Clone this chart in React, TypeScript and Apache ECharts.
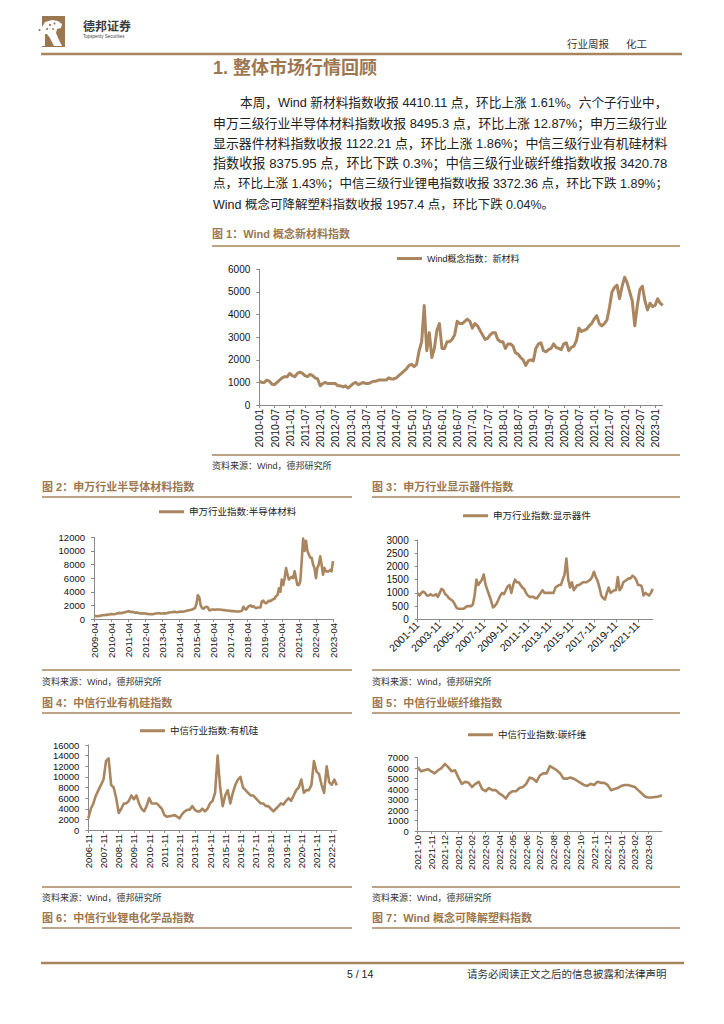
import React, { useEffect, useRef } from 'react';
import * as echarts from 'echarts';

const FONT = '"Liberation Sans", "Noto Sans CJK SC", sans-serif';
const BROWN = '#9c7750';
const RULE = '#a8855f';
const LINE = '#a9865f';

function monthSeq(y: number, m: number, n: number, step: number): string[] {
  const out: string[] = [];
  for (let i = 0; i < n; i++) {
    const t = y * 12 + (m - 1) + i * step;
    out.push(`${Math.floor(t / 12)}-${String((t % 12) + 1).padStart(2, '0')}`);
  }
  return out;
}

// ---- Figure 1: Wind 概念新材料指数 (monthly, 2010-01 .. 2023-04)
const cats1 = monthSeq(2010, 1, 160, 1);
const v1 = [
  1050, 1000, 1000, 1100, 1050, 920, 900, 1000, 1100, 1200, 1250, 1250,
  1400, 1300, 1250, 1400, 1450, 1400, 1300, 1250, 1350, 1300, 1200, 1150,
  850, 950, 1000, 950, 950, 950, 950, 850, 850, 800, 850, 750,
  850, 950, 1000, 900, 950, 1000, 950, 950, 1000, 1050, 1050, 1100,
  1100, 1100, 1100, 1200, 1150, 1150, 1200, 1300, 1400, 1500, 1600, 1750,
  1800, 1700, 1800, 2400, 2800, 4400, 2400, 3200, 2100, 2500, 3300, 3600,
  2500, 2500, 2800, 2800, 2900, 3100, 3700, 3600, 3600, 3700, 3800, 3700,
  3400, 3600, 3500, 3300, 3100, 2900, 2950, 3100, 3200, 3200, 2900, 2800,
  2800, 2500, 2700, 2700, 2600, 2300, 2250, 2100, 2000, 1750, 1950, 2000,
  1950, 2500, 2700, 2750, 2400, 2350, 2450, 2500, 2700, 2550, 2500, 2450,
  2700, 2750, 2400, 2550, 2600, 2850, 3400, 3250, 3300, 3350, 3500, 3600,
  3800, 3950, 3600, 3500, 3600, 3750, 4300, 5000, 5200, 5300, 4700, 5250,
  5650, 5400, 5000, 4600, 3500, 4400, 5100, 5250, 4600, 4200, 4500, 4350,
  4400, 4700, 4500, 4400,
];

// ---- Figure 2: 申万行业半导体材料 (monthly, 2009-04 .. 2023-04)
const cats2 = monthSeq(2009, 4, 169, 1);
const v2 = [
  450, 450, 400, 450, 450, 500, 550, 550, 600,
  600, 650, 650, 750, 700, 700, 750, 800, 850, 900, 850, 900,
  950, 1000, 1050, 1150, 1100, 1000, 1050, 1000, 900, 950, 900, 850,
  800, 800, 850, 800, 750, 750, 700, 750, 700, 750, 800, 800,
  850, 850, 800, 800, 850, 800, 850, 900, 950, 1000, 1000, 1050,
  1050, 1000, 1000, 1050, 1100, 1050, 1100, 1150, 1200, 1250, 1300, 1350,
  1400, 1500, 1600, 2200, 3500, 3200, 2000, 1600, 1500, 1700, 1800, 1700,
  1300, 1300, 1400, 1400, 1350, 1400, 1400, 1400, 1350, 1350, 1300, 1300,
  1250, 1250, 1200, 1200, 1150, 1150, 1150, 1100, 1100, 1100, 1150, 1200,
  1800, 1500, 1400, 1700, 1900, 2000, 1800, 1900, 1700, 1600, 1700, 1700,
  1700, 2600, 2700, 2400, 2300, 2500, 2700, 2600, 2800, 2900, 3000, 3400,
  3500, 4500, 4000, 5800, 5000, 6000, 7500, 6500, 5800, 6000, 6200, 6000,
  7000, 6000, 5000, 5000, 5500, 8500, 11800, 10000, 11500, 10000, 9500, 9000,
  9000, 8000, 7500, 6000, 7500, 8000, 9200, 8000, 6500, 7500, 7000, 7000,
  7000, 7200, 7000, 8500,
];

// ---- Figure 3: 申万行业显示器件 (bi-monthly, 2001-11 .. 2023-03)
const cats3 = monthSeq(2001, 11, 129, 2);
const v3 = [
  1000,
  900, 1000, 1050, 1000, 900, 900,
  950, 900, 900, 950, 850, 1000,
  1150, 1100, 950, 900, 800, 750,
  700, 600, 450, 400, 400, 400,
  400, 450, 500, 500, 500, 550,
  900, 1500, 1300, 1400, 1500, 1700,
  1300, 1100, 900, 700, 450, 500,
  600, 750, 900, 1000, 950, 1100,
  1250, 1300, 1000, 1300, 1500, 1400,
  1400, 1300, 1200, 1150, 1000, 900,
  850, 850, 850, 800, 800, 900,
  1000, 1100, 1000, 1000, 1000, 1000,
  1000, 1000, 1200, 1250, 1300, 1300,
  1500, 1700, 2300, 1500, 1200, 1400,
  1100, 1200, 1300, 1300, 1350, 1400,
  1400, 1400, 1450, 1500, 1600, 1800,
  1600, 1450, 1200, 900, 800, 750,
  1000, 1200, 1000, 1050, 1100, 1100,
  1600, 1100, 1200, 1400, 1450, 1500,
  1550, 1550, 1650, 1600, 1500, 1300,
  1300, 1250, 900, 1000, 950, 900,
  1000, 1150,
];

// ---- Figure 4: 中信行业有机硅 (bi-monthly, 2006-11 .. 2023-03)
const cats4 = monthSeq(2006, 11, 99, 2);
const v4 = [
  2200,
  4000, 5000, 6500, 7500, 8500, 9500,
  13000, 13500, 8500, 8000, 6000, 3200,
  4000, 5000, 5000, 5500, 6500, 5800,
  6500, 5000, 4000, 3500, 4500, 6000,
  5000, 5000, 5000, 4500, 4000, 2800,
  2500, 2600, 2700, 2800, 2500, 2200,
  3000, 3500, 3800, 3800, 4500, 3800,
  3500, 3500, 4000, 3500, 4000, 5000,
  5500, 7000, 14000, 8000, 4500, 6500,
  7500, 5000, 7000, 8500, 9500, 10000,
  8000, 7500, 7000, 6500, 6500, 6000,
  5500, 5000, 5000, 4500, 4500, 4000,
  3500, 4000, 4500, 5000, 4800, 5500,
  6000, 5500, 6500, 7500, 8000, 9500,
  7000, 7500, 7500, 8500, 13000, 11000,
  10500, 8500, 7000, 12000, 9000, 8500,
  9500, 8400,
];

// ---- Figure 5: 中信行业碳纤维 (weekly, 2021-10 .. 2023-04)
const months5 = monthSeq(2021, 10, 19, 1);
const cats5 = Array.from({ length: 73 }, (_, i) => `${months5[Math.floor(i / 4)]}-w${i % 4}`);
const v5 = [
  6100, 5700, 5800, 5900,
  5700, 5500, 5800, 6000,
  6400, 6100, 5700, 5800,
  5100, 4500, 4700, 4600,
  4200, 4500, 4700, 4000,
  3800, 4100, 3900, 3900,
  3600, 3400, 3100, 3600,
  3800, 3800, 4100, 4200,
  4500, 5100, 5000, 4700,
  5300, 5500, 5500, 6200,
  6000, 5800, 5500, 5000,
  5000, 5100, 5000, 4800,
  4600, 4400, 4300, 4500,
  4400, 4700, 4600, 4600,
  4400, 3900, 4000, 4100,
  4300, 4400, 4400, 4300,
  4200, 3900, 3600, 3300,
  3200, 3200, 3250, 3300,
  3420,
];

const names = [
  'Wind概念指数：新材料',
  '申万行业指数:半导体材料',
  '申万行业指数:显示器件',
  '中信行业指数:有机硅',
  '中信行业指数:碳纤维',
];

const paragraph = [
  '本周，Wind 新材料指数收报 4410.11 点，环比上涨 1.61%。六个子行业中，',
  '申万三级行业半导体材料指数收报 8495.3 点，环比上涨 12.87%；申万三级行业',
  '显示器件材料指数收报 1122.21 点，环比上涨 1.86%；中信三级行业有机硅材料',
  '指数收报 8375.95 点，环比下跌 0.3%；中信三级行业碳纤维指数收报 3420.78',
  '点，环比上涨 1.43%；中信三级行业锂电指数收报 3372.36 点，环比下跌 1.89%；',
  'Wind 概念可降解塑料指数收报 1957.4 点，环比下跌 0.04%。',
];

const figTitles = [
  '图 1：Wind 概念新材料指数',
  '图 2：申万行业半导体材料指数',
  '图 3：申万行业显示器件指数',
  '图 4：中信行业有机硅指数',
  '图 5：中信行业碳纤维指数',
  '图 6：中信行业锂电化学品指数',
  '图 7：Wind 概念可降解塑料指数',
];
const SOURCE = '资料来源：Wind，德邦研究所';

function txt(x: number, y: number, text: string, size: number, fill: string, weight: any = 'normal', align = 'left') {
  return {
    type: 'text', x, y, silent: true,
    style: { text, fontSize: size, fontFamily: FONT, fontWeight: weight, fill, align, verticalAlign: 'middle' },
  };
}
function hline(x1: number, x2: number, y: number, w: number, color: string) {
  return { type: 'rect', silent: true, shape: { x: x1, y: y - w / 2, width: x2 - x1, height: w }, style: { fill: color } };
}

export default function App() {
  const ref = useRef<HTMLDivElement>(null);
  useEffect(() => {
    if (!ref.current) return;
    const chart = echarts.init(ref.current, null, { renderer: 'svg', width: 724, height: 1024 });

    const canvas = document.createElement('canvas');
    const ctx = canvas.getContext('2d')!;
    const paraEls: any[] = [];
    paragraph.forEach((line, i) => {
      const x0 = i === 0 ? 240 : 213;
      let size = 12.5;
      if (i < paragraph.length - 1) {
        ctx.font = `12.5px ${FONT}`;
        const w = ctx.measureText(line).width;
        if (w > 0) size = Math.max(11.5, Math.min(13.5, 12.5 * (668 - x0) / w));
      }
      paraEls.push(txt(x0, 103 + 20.3 * i, line, size, '#222'));
    });

    const grids = [
      { left: 259.3, top: 269.3, width: 403.4, height: 135.7 },
      { left: 94, top: 537.3, width: 239, height: 81.7 },
      { left: 417.7, top: 540, width: 235, height: 79.3 },
      { left: 88.3, top: 745, width: 248.5, height: 85 },
      { left: 417.7, top: 757.7, width: 244.2, height: 73.3 },
    ];
    const catsAll = [cats1, cats2, cats3, cats4, cats5];
    const valsAll = [v1, v2, v3, v4, v5];
    const steps = [6, 12, 12, 6, 4];
    const lastLabel = [156, 168, 120, 96, 68];
    const rotates = [90, 90, 45, 90, 90];
    const xFont = [10.5, 9.5, 10.5, 9.5, 9.5];
    const yFont = [10, 9.5, 10, 9.5, 9.5];
    const ymax = [6000, 12000, 3000, 16000, 7000];
    const ystep = [1000, 2000, 500, 2000, 1000];
    const legendPos = [[397, 260], [159, 513], [463, 517], [140, 732], [468, 736]];
    const axisColor = '#8a8a8a';

    const xAxis = grids.map((_, i) => {
      const show = (idx: number) => idx % steps[i] === 0 && idx <= lastLabel[i];
      return {
        type: 'category', gridIndex: i, data: catsAll[i], boundaryGap: false,
        axisLine: { show: true, lineStyle: { color: axisColor, width: 1 } },
        axisTick: { show: true, interval: show, length: 3, lineStyle: { color: axisColor } },
        axisLabel: {
          interval: show, rotate: rotates[i], fontSize: xFont[i], color: '#111',
          fontFamily: FONT, margin: 4,
          formatter: (v: string) => v.slice(0, 7),
        },
        splitLine: { show: false },
      };
    });
    const yAxis = grids.map((_, i) => ({
      type: 'value', gridIndex: i, min: 0, max: ymax[i], interval: ystep[i],
      axisLine: { show: true, lineStyle: { color: axisColor, width: 1 } },
      axisTick: { show: true, length: 3, lineStyle: { color: axisColor } },
      axisLabel: { fontSize: yFont[i], color: '#111', fontFamily: FONT, margin: 9, formatter: (v: number) => String(v) },
      splitLine: { show: false },
    }));
    const series = grids.map((_, i) => ({
      type: 'line', name: names[i], xAxisIndex: i, yAxisIndex: i, data: valsAll[i],
      showSymbol: false, symbol: 'none', smooth: false,
      lineStyle: { color: LINE, width: i === 0 ? 3 : 2.6, join: 'round' }, itemStyle: { color: LINE },
    }));
    const legend = grids.map((_, i) => ({
      data: [names[i]], left: legendPos[i][0], top: legendPos[i][1] - 6, padding: 0,
      icon: 'rect', itemWidth: 25, itemHeight: 3, itemGap: 0, selectedMode: false,
      textStyle: { fontSize: i === 0 ? 9 : 9.5, color: '#222', fontFamily: FONT },
    }));

    const graphic: any[] = [
      { type: 'rect', silent: true, shape: { x: 42, y: 16, width: 23, height: 31 }, style: { fill: '#9a7651' } },
      {
        type: 'polygon', silent: true,
        shape: { points: [[42, 27], [45, 22], [52, 20], [58, 21], [62, 24], [61, 28], [57, 29], [56, 33], [59, 40], [62, 46], [54, 46], [50, 38], [47, 34], [45, 34], [45, 46], [42, 46]] },
        style: { fill: '#ffffff' },
      },
      { type: 'circle', silent: true, shape: { cx: 50, cy: 25, r: 1.1 }, style: { fill: '#9a7651' } },
      { type: 'circle', silent: true, shape: { cx: 54.5, cy: 23.5, r: 1 }, style: { fill: '#9a7651' } },
      { type: 'circle', silent: true, shape: { cx: 47, cy: 29, r: 1 }, style: { fill: '#9a7651' } },
      { type: 'circle', silent: true, shape: { cx: 53, cy: 29, r: 0.9 }, style: { fill: '#9a7651' } },
      { type: 'circle', silent: true, shape: { cx: 39.5, cy: 30, r: 1 }, style: { fill: '#9a7651' } },
      txt(83, 27, '德邦证券', 12, '#3a3a3a', 'bold'),
      txt(83, 36.5, 'Topsperity Securities', 4.5, '#444'),
      txt(567, 44, '行业周报', 10.5, '#333'),
      txt(626, 44, '化工', 10.5, '#333'),
      hline(41, 682, 54, 2.6, RULE),
      txt(213, 68, '1. 整体市场行情回顾', 18, BROWN, 'bold'),
      ...paraEls,
      txt(212, 234, figTitles[0], 11, BROWN, 'bold'),
      hline(212, 680, 246, 1.6, RULE),
      hline(212, 680, 455, 1.6, RULE),
      txt(212, 466, SOURCE, 9, '#333'),
      txt(42, 487, figTitles[1], 11, BROWN, 'bold'),
      txt(372, 487, figTitles[2], 11, BROWN, 'bold'),
      hline(42, 352, 497, 1.6, RULE),
      hline(372, 680, 497, 1.6, RULE),
      hline(42, 352, 670, 1.6, RULE),
      hline(372, 680, 670, 1.6, RULE),
      txt(42, 682, SOURCE, 9, '#333'),
      txt(372, 682, SOURCE, 9, '#333'),
      txt(42, 703, figTitles[3], 11, BROWN, 'bold'),
      txt(372, 703, figTitles[4], 11, BROWN, 'bold'),
      hline(42, 352, 713, 1.6, RULE),
      hline(372, 680, 713, 1.6, RULE),
      hline(42, 352, 887, 1.6, RULE),
      hline(372, 680, 887, 1.6, RULE),
      txt(42, 898, SOURCE, 9, '#333'),
      txt(372, 898, SOURCE, 9, '#333'),
      txt(42, 918, figTitles[5], 11, BROWN, 'bold'),
      txt(372, 918, figTitles[6], 11, BROWN, 'bold'),
      hline(42, 352, 928, 1.6, RULE),
      hline(372, 680, 928, 1.6, RULE),
      hline(41, 684, 963, 2.6, RULE),
      txt(347, 974, '5 / 14', 10.5, '#222'),
      txt(467, 974, '请务必阅读正文之后的信息披露和法律声明', 10.5, '#333'),
    ];

    chart.setOption({
      animation: false,
      backgroundColor: '#ffffff',
      grid: grids,
      xAxis,
      yAxis,
      series,
      legend,
      graphic,
    });
    return () => chart.dispose();
  }, []);
  return (
    <div
      ref={ref}
      style={{ position: 'absolute', left: 0, top: 0, width: 724, height: 1024, background: '#fff' }}
    />
  );
}
